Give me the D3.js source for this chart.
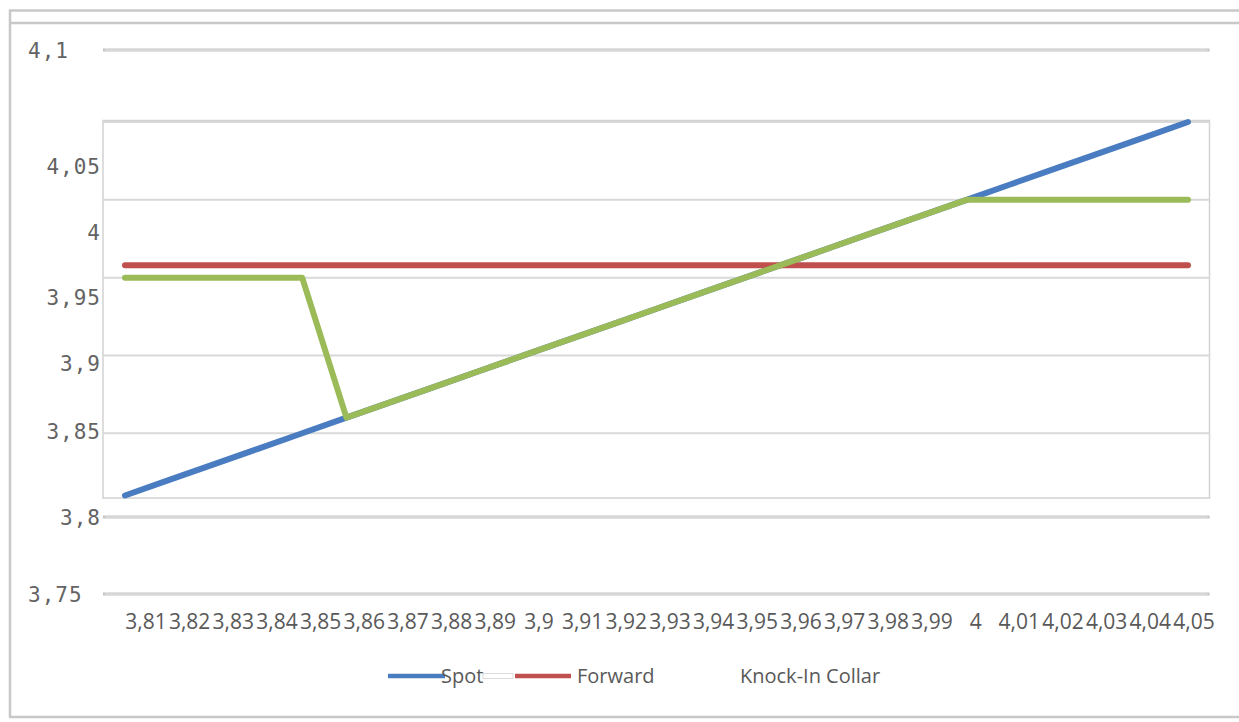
<!DOCTYPE html>
<html>
<head>
<meta charset="utf-8">
<script src="https://cdn.jsdelivr.net/npm/d3@7"></script>
<style>
  html, body { margin: 0; padding: 0; background: #ffffff; }
  svg { display: block; }
</style>
</head>
<body>
<svg id="chart" width="1239" height="722"></svg>
<script>
// Spot price grid (x categories) and the three payoff series
const categories = ["3,81","3,82","3,83","3,84","3,85","3,86","3,87","3,88","3,89","3,9",
  "3,91","3,92","3,93","3,94","3,95","3,96","3,97","3,98","3,99","4",
  "4,01","4,02","4,03","4,04","4,05"];

const spot = [3.81,3.82,3.83,3.84,3.85,3.86,3.87,3.88,3.89,3.90,
  3.91,3.92,3.93,3.94,3.95,3.96,3.97,3.98,3.99,4.00,
  4.01,4.02,4.03,4.04,4.05];

const forward = [3.958,3.958,3.958,3.958,3.958,3.958,3.958,3.958,3.958,3.958,
  3.958,3.958,3.958,3.958,3.958,3.958,3.958,3.958,3.958,3.958,
  3.958,3.958,3.958,3.958,3.958];

const knockInCollar = [3.95,3.95,3.95,3.95,3.95,3.86,3.87,3.88,3.89,3.90,
  3.91,3.92,3.93,3.94,3.95,3.96,3.97,3.98,3.99,4.00,
  4.00,4.00,4.00,4.00,4.00];

// Value axis ticks and their labels
const yTicks = [3.75, 3.8, 3.85, 3.9, 3.95, 4.0, 4.05, 4.1];
const yTickLabels = ["3,75", "3,8", "3,85", "3,9", "3,95", "4", "4,05", "4,1"];

const seriesNames = ["Spot", "Forward", "Knock-In Collar"];

const svg = d3.select("#chart");
const W = 1239, H = 722;
const frameColor = "#c8c8c8";
const textColor = "#595959";
const colors = { "Spot": "#4a7cc1", "Forward": "#c0504d", "Knock-In Collar": "#9bbb59" };

// Plot area box
const plot = { left: 103, right: 1209.5, top: 120.5, bottom: 498 };

// Scales: data inside the plot box
const x = d3.scalePoint().domain(categories).range([125, 1188]);
const y = d3.scaleLinear().domain([3.81, 4.05]).range([495.5, 122]);

// Value-axis label placement (outer axis)
const yLabel = d3.scaleLinear()
  .domain(yTicks)
  .range([594, 517, 431, 363, 297, 232, 166, 50]);

// Category label placement
const xLabel = d3.scalePoint().domain(categories).range([146, 1194]);

// Outer frame
const frame = svg.append("g").attr("fill", "none").attr("stroke", frameColor).attr("stroke-width", 2.5);
frame.append("line").attr("x1", 9).attr("x2", W).attr("y1", 10.5).attr("y2", 10.5);
frame.append("line").attr("x1", 9).attr("x2", W).attr("y1", 23).attr("y2", 23);
frame.append("line").attr("x1", 10).attr("x2", 10).attr("y1", 10).attr("y2", 717);
frame.append("line").attr("x1", 9).attr("x2", W).attr("y1", 717).attr("y2", 717);

// Gridlines outside the plot box (ticks beyond the data range)
const innerDomain = y.domain();
const outerTicks = yTicks.filter(v => v < innerDomain[0] || v > innerDomain[1]);
const innerTicks = yTicks.filter(v => v >= innerDomain[0] && v <= innerDomain[1]);

const outerGrid = svg.append("g");
outerGrid.selectAll("line.outer")
  .data(outerTicks)
  .join("line")
  .attr("class", "outer")
  .attr("x1", plot.left).attr("x2", plot.right)
  .attr("y1", d => yLabel(d)).attr("y2", d => yLabel(d))
  .attr("stroke", "#c4c4c4").attr("stroke-width", 3);
outerGrid.selectAll("line.outerHi")
  .data(outerTicks)
  .join("line")
  .attr("class", "outerHi")
  .attr("x1", plot.left + 2).attr("x2", plot.right - 2)
  .attr("y1", d => yLabel(d)).attr("y2", d => yLabel(d))
  .attr("stroke", "#e8e8e8").attr("stroke-width", 1);

// Plot box background and border
svg.append("rect")
  .attr("x", plot.left).attr("y", plot.top)
  .attr("width", plot.right - plot.left).attr("height", plot.bottom - plot.top)
  .attr("fill", "#ffffff").attr("stroke", "#d2d2d2").attr("stroke-width", 1.5);

// Gridlines inside the plot box
svg.append("g").selectAll("line")
  .data(innerTicks)
  .join("line")
  .attr("x1", plot.left).attr("x2", plot.right)
  .attr("y1", d => y(d)).attr("y2", d => y(d))
  .attr("stroke", "#d9d9d9").attr("stroke-width", 2);

// Value labels
svg.append("g").selectAll("text")
  .data(yTicks)
  .join("text")
  .attr("x", (d, i) => (i === 0 || i === yTicks.length - 1) ? 28 : 101)
  .attr("y", d => yLabel(d))
  .attr("dy", "0.36em")
  .attr("text-anchor", (d, i) => (i === 0 || i === yTicks.length - 1) ? "start" : "end")
  .attr("font-family", "'DejaVu Sans Mono', monospace")
  .attr("font-size", 21)
  .attr("letter-spacing", 1)
  .attr("fill", "#636363")
  .text((d, i) => yTickLabels[i]);

// Category labels
svg.append("g").selectAll("text")
  .data(categories)
  .join("text")
  .attr("x", d => xLabel(d))
  .attr("y", 622)
  .attr("dy", "0.35em")
  .attr("text-anchor", "middle")
  .attr("font-family", "'Open Sans', sans-serif")
  .attr("font-size", 21)
  .attr("fill", textColor)
  .text(d => d);

// Series lines
const line = d3.line()
  .x((d, i) => x(categories[i]))
  .y(d => y(d));

const series = [
  { name: "Spot", values: spot },
  { name: "Forward", values: forward },
  { name: "Knock-In Collar", values: knockInCollar }
];

svg.append("g").selectAll("path")
  .data(series)
  .join("path")
  .attr("d", d => line(d.values))
  .attr("fill", "none")
  .attr("stroke", d => colors[d.name])
  .attr("stroke-width", 6)
  .attr("stroke-linecap", "round")
  .attr("stroke-linejoin", "round");

// Legend
const legendY = 676;
const legend = svg.append("g");
legend.append("rect")
  .attr("x", 483).attr("y", legendY - 2.5).attr("width", 30).attr("height", 5)
  .attr("fill", "#ffffff").attr("stroke", "#dcdcdc").attr("stroke-width", 1);

const legendItems = [
  { name: seriesNames[0], swatch: [388, 445], textX: 441, showSwatch: true },
  { name: seriesNames[1], swatch: [515, 571], textX: 577, showSwatch: true },
  { name: seriesNames[2], swatch: [680, 735], textX: 740, showSwatch: false }
];

legend.selectAll("line")
  .data(legendItems.filter(d => d.showSwatch))
  .join("line")
  .attr("x1", d => d.swatch[0]).attr("x2", d => d.swatch[1])
  .attr("y1", legendY).attr("y2", legendY)
  .attr("stroke", d => colors[d.name])
  .attr("stroke-width", 4.5);

legend.selectAll("text")
  .data(legendItems)
  .join("text")
  .attr("x", d => d.textX)
  .attr("y", legendY)
  .attr("dy", "0.35em")
  .attr("font-family", "'Open Sans', sans-serif")
  .attr("font-size", 20)
  .attr("fill", textColor)
  .text(d => d.name);
</script>
</body>
</html>
